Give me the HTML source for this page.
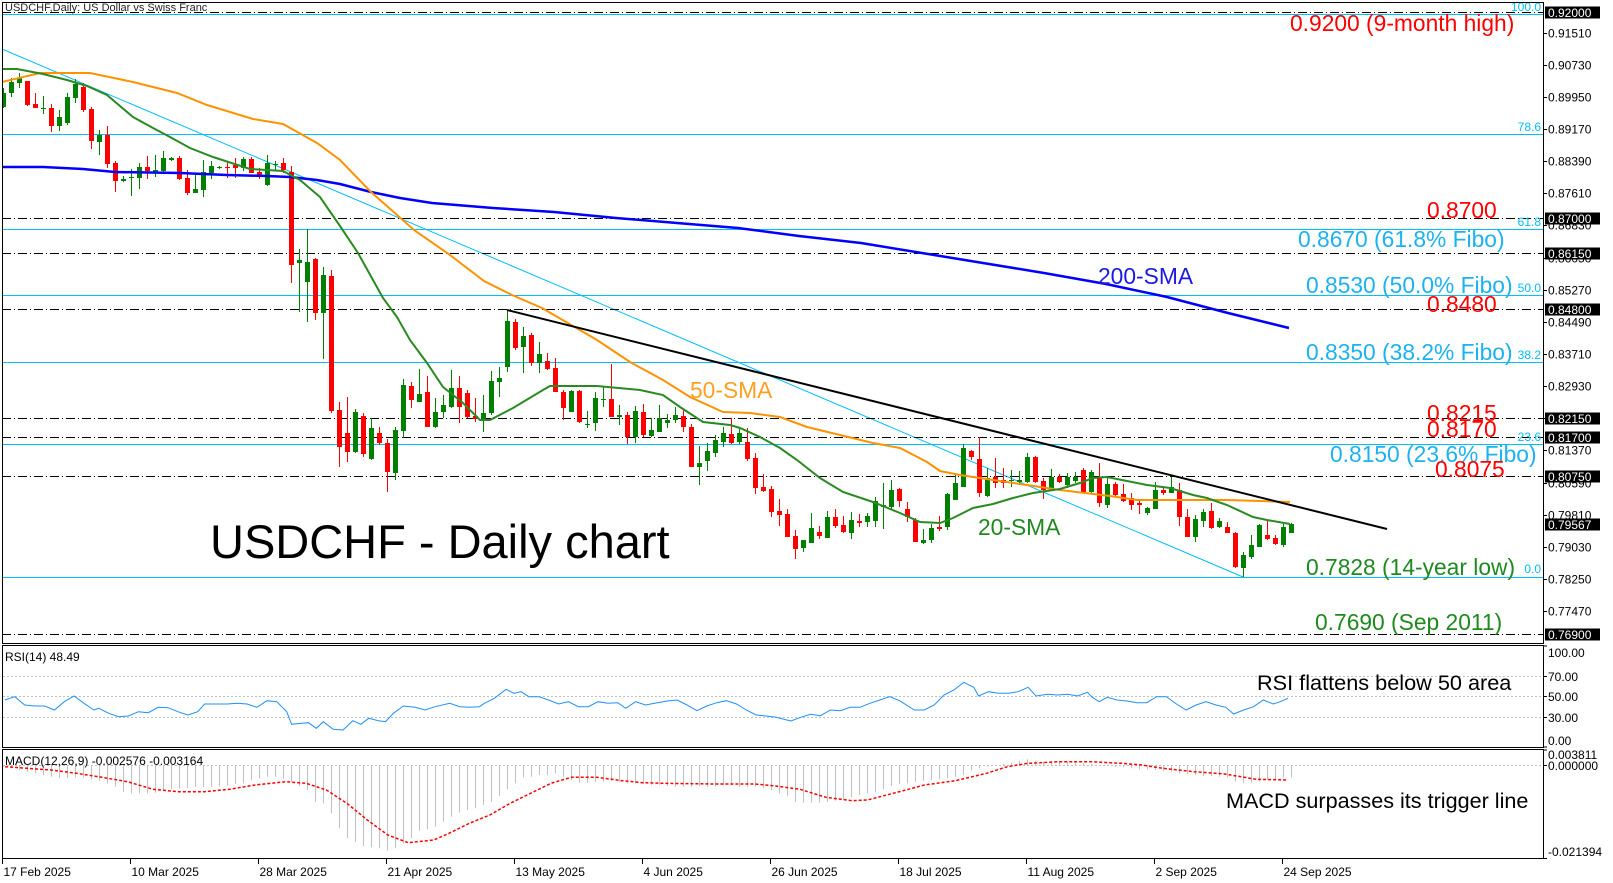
<!DOCTYPE html>
<html><head><meta charset="utf-8">
<style>
html,body{margin:0;padding:0;background:#fff;overflow:hidden;}
svg{display:block;}
text{font-family:"Liberation Sans",Arial,sans-serif;}
</style></head>
<body>
<svg id="c" width="1613" height="883" viewBox="0 0 1613 883" xmlns="http://www.w3.org/2000/svg">
<defs>
<clipPath id="mc"><rect x="3" y="3" width="1540" height="640"/></clipPath>
<clipPath id="rc"><rect x="3" y="646" width="1540" height="101"/></clipPath>
<clipPath id="kc"><rect x="3" y="750" width="1540" height="108"/></clipPath>
</defs>
<rect x="0" y="0" width="1613" height="883" fill="#fff"/>

<g clip-path="url(#mc)">
<g stroke="#00bfff" stroke-width="1">
<line x1="2" y1="14.5" x2="1543" y2="14.5"/>
<line x1="2" y1="134.5" x2="1543" y2="134.5"/>
<line x1="2" y1="229.5" x2="1543" y2="229.5"/>
<line x1="2" y1="295.5" x2="1543" y2="295.5"/>
<line x1="2" y1="362.5" x2="1543" y2="362.5"/>
<line x1="2" y1="444.5" x2="1543" y2="444.5"/>
<line x1="2" y1="577.5" x2="1543" y2="577.5"/>
<line x1="2" y1="49" x2="1243" y2="577"/>
</g>
<g stroke="#000" stroke-width="1" stroke-dasharray="9 3 1 3">
<line x1="2" y1="12.5" x2="1543" y2="12.5"/>
<line x1="2" y1="218.5" x2="1543" y2="218.5"/>
<line x1="2" y1="253.5" x2="1543" y2="253.5"/>
<line x1="2" y1="309.5" x2="1543" y2="309.5"/>
<line x1="2" y1="418.5" x2="1543" y2="418.5"/>
<line x1="2" y1="437.5" x2="1543" y2="437.5"/>
<line x1="2" y1="476.5" x2="1543" y2="476.5"/>
<line x1="2" y1="634.5" x2="1543" y2="634.5"/>
</g>
<g id="candles"></g>
<polyline fill="none" stroke="#0000ff" stroke-width="2.5" points="2,167 43,167 83,169 115,172 180,173 227,175 267,176 290,177 317,180 340,184 371,192 400,198 432,203 493,208 554,212 616,218 677,223 738,228 799,236 861,243 922,253 983,263 1044,273 1106,284 1167,297 1228,313 1289,328"/>
<polyline fill="none" stroke="#ff9200" stroke-width="2" points="2,82 40,73 90,73 133,82 177,93 207,105 253,119 283,124 317,143 340,160 371,192 414,230 450,255 484,281 512,295 542,308 597,340 630,362 663,380 690,397 723,412 750,413 780,417 807,427 840,435 873,443 900,448 927,462 940,471 960,475 993,480 1027,485 1060,490 1110,496 1137,500 1193,500 1227,500 1260,501 1290,502"/>
<polyline fill="none" stroke="#2a8a22" stroke-width="2" points="2,69 17,69 43,74 67,80 87,86 107,95 133,117 153,128 170,137 190,148 213,157 250,169 283,171 300,180 320,197 340,226 358,253 373,280 383,298 397,317 410,340 427,363 443,387 463,403 480,420 490,420 513,408 543,390 550,386 597,386 640,390 663,395 680,407 703,422 730,425 740,428 760,437 780,448 797,460 820,478 843,492 873,502 900,513 920,522 940,523 953,518 973,508 993,504 1013,498 1033,493 1060,489 1080,483 1093,478 1107,477 1127,481 1147,485 1170,488 1193,495 1207,498 1227,505 1253,517 1267,520 1290,524"/>
<line x1="507" y1="310" x2="1387" y2="529" stroke="#000" stroke-width="2"/>
</g>

<g fill="#00bfff" font-size="12" text-anchor="end">
<text x="1541" y="11">100.0</text>
<text x="1541" y="131">78.6</text>
<text x="1541" y="226">61.8</text>
<text x="1541" y="292">50.0</text>
<text x="1541" y="359">38.2</text>
<text x="1541" y="441">23.6</text>
<text x="1541" y="573">0.0</text>
</g>

<g font-size="22.8">
<text x="1290" y="31" fill="#ff0000">0.9200 (9-month high)</text>
<text x="1427" y="218" fill="#ff0000">0.8700</text>
<text x="1298" y="247" fill="#1cb2f0">0.8670 (61.8% Fibo)</text>
<text x="1098" y="284" fill="#1a1ae6">200-SMA</text>
<text x="1306" y="293" fill="#1cb2f0">0.8530 (50.0% Fibo)</text>
<text x="1427" y="312" fill="#ff0000">0.8480</text>
<text x="1306" y="360" fill="#1cb2f0">0.8350 (38.2% Fibo)</text>
<text x="690" y="398" fill="#ffa020">50-SMA</text>
<text x="1330" y="462" fill="#1cb2f0">0.8150 (23.6% Fibo)</text>
<text x="1427" y="421" fill="#ff0000">0.8215</text>
<text x="1427" y="437" fill="#ff0000">0.8170</text>
<text x="1435" y="477" fill="#ff0000">0.8075</text>
<text x="978" y="535" fill="#1e8a1e">20-SMA</text>
<text x="1306" y="575" fill="#1e8a1e">0.7828 (14-year low)</text>
<text x="1315" y="630" fill="#1e8a1e">0.7690 (Sep 2011)</text>
</g>
<text x="210" y="558" font-size="47" fill="#000">USDCHF - Daily chart</text>
<text x="5" y="11" font-size="11" fill="#222">USDCHF,Daily:  US Dollar vs Swiss Franc</text>

<g stroke="#c0c0c0" stroke-width="1" stroke-dasharray="2 2">
<line x1="3" y1="676.5" x2="1543" y2="676.5"/>
<line x1="3" y1="696.5" x2="1543" y2="696.5"/>
<line x1="3" y1="717.5" x2="1543" y2="717.5"/>
<line x1="3" y1="765.5" x2="1543" y2="765.5"/>
</g>
<g id="rsi" clip-path="url(#rc)"></g>
<text x="5" y="661" font-size="12" fill="#000">RSI(14) 48.49</text>
<text x="1257" y="690" font-size="21.7" fill="#000">RSI flattens below 50 area</text>

<g id="macd" clip-path="url(#kc)"></g>
<text x="5" y="765" font-size="12" fill="#000">MACD(12,26,9) -0.002576 -0.003164</text>
<text x="1226" y="808" font-size="21.6" fill="#000">MACD surpasses its trigger line</text>

<g fill="none" stroke="#000" stroke-width="1">
<rect x="2.5" y="2.5" width="1541" height="641"/>
<rect x="2.5" y="645.5" width="1541" height="102"/>
<rect x="2.5" y="749.5" width="1541" height="109"/>
</g>

<g id="axis" font-size="12" fill="#000"></g>
</svg>
<script>
(function(){
var NS='http://www.w3.org/2000/svg';
function el(tag,attrs,parent){var e=document.createElementNS(NS,tag);for(var k in attrs)e.setAttribute(k,attrs[k]);parent.appendChild(e);return e;}
var data="g 93 107 88 108|g 82 93 78 97|g 78 83 73 88|r 81 105 81 106|r 104 108 93 108|g 108 109 96 114|r 108 126 104 132|g 117 126 110 131|g 97 123 93 125|g 84 98 79 103|r 87 110 83 112|r 109 141 107 149|g 135 142 130 155|r 135 164 126 168|r 163 181 161 192|g 179 181 176 182|g 177 178 169 196|g 167 178 163 189|r 167 171 156 179|g 170 172 155 177|g 158 171 151 173|g 158 160 157 161|r 158 179 156 180|r 178 193 170 195|g 189 193 174 193|g 172 190 160 197|g 166 173 161 179|g 167 168 166 169|r 167 168 162 178|r 165 168 158 178|g 159 168 157 171|r 159 173 157 173|r 172 177 168 179|g 163 185 155 186|g 164 165 161 170|r 163 170 158 173|r 172 265 166 283|g 260 263 249 312|g 262 282 229 322|r 259 313 258 320|g 275 313 267 359|r 276 411 270 413|r 410 447 402 467|r 433 452 397 462|g 412 452 409 453|r 416 454 413 457|g 428 459 418 460|r 433 443 427 445|r 443 472 439 492|g 430 473 427 480|g 385 431 379 438|r 386 400 382 408|g 394 402 369 402|r 392 427 376 427|g 412 427 398 428|g 405 412 395 418|g 388 407 370 408|r 388 407 376 423|r 393 417 390 418|r 416 419 398 422|g 413 419 395 432|g 381 413 371 415|g 378 382 367 397|g 321 367 310 372|r 322 348 319 350|g 336 347 327 373|r 335 363 333 366|g 354 363 342 373|r 361 369 353 370|r 368 392 358 392|r 392 408 390 420|g 391 412 390 412|r 391 422 390 423|g 424 425 411 428|g 398 423 392 431|g 399 400 386 407|r 399 417 364 417|g 415 417 405 425|r 415 437 412 444|g 411 437 406 443|r 412 435 404 437|g 430 436 418 437|g 418 432 405 432|g 420 423 414 428|g 415 420 407 423|r 416 427 410 432|r 427 467 424 467|g 463 467 446 485|g 451 461 443 471|g 440 453 435 457|g 433 442 427 447|r 434 443 418 444|g 433 442 429 444|r 442 459 428 461|r 458 488 453 494|r 487 491 474 492|r 489 512 486 517|r 511 515 499 526|r 514 537 509 537|r 536 549 530 559|g 540 548 540 552|g 528 543 513 543|r 532 536 526 539|g 517 538 511 538|r 517 526 509 528|r 525 532 516 533|g 520 533 512 539|r 521 523 514 527|g 516 522 513 527|g 501 521 497 527|g 505 507 483 529|g 490 507 480 510|r 489 501 488 507|r 509 517 502 522|r 520 542 518 542|g 540 543 529 544|g 528 540 524 543|r 527 529 516 531|g 494 527 493 530|g 483 500 475 500|g 448 487 444 487|r 451 457 450 460|r 459 493 437 497|g 478 496 468 497|r 477 483 458 488|r 480 483 468 488|g 480 481 470 487|g 480 482 471 485|g 457 482 453 483|r 457 482 456 483|r 481 490 478 499|g 477 490 469 491|r 477 482 474 483|g 477 485 473 488|g 477 481 472 483|r 470 492 468 493|g 472 492 470 493|r 477 503 463 507|g 484 505 478 508|r 484 495 482 497|r 494 501 484 502|r 498 505 493 510|r 503 505 499 514|g 508 513 507 515|g 490 509 482 509|r 490 493 487 495|g 487 493 477 493|r 490 517 483 526|r 517 537 509 537|g 519 537 515 542|g 512 521 509 527|r 511 528 503 529|g 521 527 518 528|r 527 533 522 533|r 533 567 532 568|g 555 568 552 577|g 545 557 535 559|g 525 547 524 547|r 535 539 520 540|r 538 544 535 545|g 527 545 524 547|g 524 533 523 533".split('|');
var gB='',rB='',gW='',rW='';
data.forEach(function(s,i){var c=s.split(' ');var cx=3+8*i;var t=+c[1],b=+c[2],h=+c[3],l=+c[4];if(b-t<1)b=t+1;if(h>t)h=t;if(l<b)l=b;
var body='M'+(cx-2)+' '+t+'h5V'+b+'h-5z';var wick='M'+(cx+0.5)+' '+h+'V'+l;
if(c[0]==='g'){gB+=body;gW+=wick;}else{rB+=body;rW+=wick;}});
var cg=document.getElementById('candles');
el('path',{d:gW,stroke:'#008000','stroke-width':1,fill:'none'},cg);
el('path',{d:rW,stroke:'#ff0000','stroke-width':1,fill:'none'},cg);
el('path',{d:gB,fill:'#008000'},cg);
el('path',{d:rB,fill:'#ff0000'},cg);

var rsi=[5,210,15,200,25,225,35,228,45,228,55,240,65,215,75,198,85,220,95,240,100,235,110,250,120,260,130,258,140,245,150,248,160,232,170,233,180,245,190,255,200,245,207,222,220,222,230,222,240,220,250,222,260,232,270,212,280,215,290,245,295,283,305,280,312,278,320,295,327,275,337,298,347,300,357,272,365,283,373,265,383,272,390,275,398,250,408,228,420,232,430,240,440,230,455,220,465,230,475,232,485,230,490,220,500,205,512,178,520,190,527,185,535,200,545,200,555,210,565,222,575,215,585,230,595,230,605,215,615,220,625,218,633,235,643,215,653,225,665,218,675,213,685,210,695,225,705,242,715,228,725,218,735,212,745,222,755,240,765,255,775,258,785,262,800,273,810,262,820,253,830,257,840,240,850,242,860,232,870,232,880,220,890,210,900,200,910,212,925,240,935,240,945,225,955,195,965,180,975,157,985,172,990,198,1000,185,1010,190,1020,190,1030,185,1040,172,1048,198,1060,193,1070,195,1080,193,1090,198,1100,187,1105,202,1112,215,1120,202,1130,210,1140,213,1150,218,1160,218,1170,200,1180,200,1190,222,1200,240,1210,225,1220,215,1230,225,1240,232,1248,252,1258,240,1268,230,1278,210,1288,222,1295,215,1303,205];
var pts=[];for(var i=0;i<rsi.length;i+=2){pts.push((rsi[i]/1.0116).toFixed(1)+','+(630+rsi[i+1]/3).toFixed(1));}
el('polyline',{points:pts.join(' '),fill:'none',stroke:'#1e90ff','stroke-width':1},document.getElementById('rsi'));

var hist=[80,85,90,95,100,105,110,115,115,112,112,118,122,130,140,155,160,160,160,158,152,148,145,143,140,140,140,140,137,132,130,120,115,110,110,118,125,138,150,185,190,220,265,295,305,318,322,325,332,325,310,295,272,268,260,245,230,218,210,205,195,185,168,148,130,112,110,105,105,100,110,120,128,128,125,125,122,125,130,130,132,135,135,138,140,140,140,138,140,140,135,135,140,140,140,145,150,160,168,185,188,188,188,185,182,178,172,165,160,155,148,138,132,130,125,122,120,118,115,110,105,92,85,80,75,72,68,62,58,62,65,68,65,65,68,70,72,75,78,80,82,85,88,88,90,92,95,100,102,105,108,108,110,112,125,128,128,125,120,118,112,112];
var hp='';hist.forEach(function(v,i){var cx=3+8*i+0.5;var y=740+v/3;hp+='M'+cx+' 765.5V'+y.toFixed(1);});
var mg=document.getElementById('macd');
el('path',{d:hp,stroke:'#c0c0c0','stroke-width':1,fill:'none'},mg);
var s4=[10,80,100,90,150,100,200,112,250,125,300,148,350,155,400,155,450,148,500,135,560,125,600,130,640,150,680,190,720,240,760,285,800,308,850,300,880,280,920,250,960,225,1000,190,1040,160,1080,130,1120,112,1170,112,1220,122,1260,128,1300,130,1400,132,1480,132,1520,138,1568,148];
var s5=[0,150,50,172,100,182,130,180,180,160,240,135,300,122,360,100,400,80,440,70,500,65,560,65,620,70,660,75,700,85,760,95,820,102,880,118,940,120];
var sp=[];for(i=0;i<s4.length;i+=2){sp.push((s4[i]/1.96).toFixed(1)+','+(740+s4[i+1]/3).toFixed(1));}
for(i=2;i<s5.length;i+=2){sp.push((800+s5[i]/1.93).toFixed(1)+','+(740+s5[i+1]/3).toFixed(1));}
el('polyline',{points:sp.join(' '),fill:'none',stroke:'#ff0000','stroke-width':1.5,'stroke-dasharray':'3 2'},mg);

var ax=document.getElementById('axis');
function tick(y,parent){el('line',{x1:1543,y1:y,x2:1547,y2:y,stroke:'#000','stroke-width':1},parent);}
var labs=[0.91510,0.90730,0.89950,0.89170,0.88390,0.87610,0.86830,0.86050,0.85270,0.84490,0.83710,0.82930,0.82150,0.81370,0.80590,0.79810,0.79030,0.78250,0.77470];
labs.forEach(function(p){var y=Math.round(32.5+(0.91510-p)*4121)+0.5;tick(y,ax);var t=el('text',{x:1548,y:y+4},ax);t.textContent=p.toFixed(5);});
var boxes=[[0.92,12.5],[0.87,218.5],[0.8615,253.5],[0.848,309.5],[0.8215,418.5],[0.817,437.5],[0.8075,476.5],[0.79567,524.5],[0.769,634.5]];
boxes.forEach(function(b){el('rect',{x:1545,y:b[1]-6,width:55,height:12,fill:'#000'},ax);var t=el('text',{x:1548,y:b[1]+4.5,fill:'#fff'},ax);t.textContent=b[0].toFixed(5);});
[[646,'100.00',657],[676.5,'70.00',681],[696.5,'50.00',701],[717.5,'30.00',722],[747,'0.00',745]].forEach(function(a){tick(a[0],ax);var t=el('text',{x:1548,y:a[2]},ax);t.textContent=a[1];});
[[750,'0.003811',759],[765.5,'0.000000',770],[858.5,'-0.021394',856]].forEach(function(a){tick(a[0],ax);var t=el('text',{x:1548,y:a[2]},ax);t.textContent=a[1];});
var dates=['17 Feb 2025','10 Mar 2025','28 Mar 2025','21 Apr 2025','13 May 2025','4 Jun 2025','26 Jun 2025','18 Jul 2025','11 Aug 2025','2 Sep 2025','24 Sep 2025'];
dates.forEach(function(d,i){var x=3+128*i-0.5;el('line',{x1:x,y1:859,x2:x,y2:864,stroke:'#000','stroke-width':1},ax);var t=el('text',{x:x+1,y:876},ax);t.textContent=d;});
})();
</script>
</body></html>
